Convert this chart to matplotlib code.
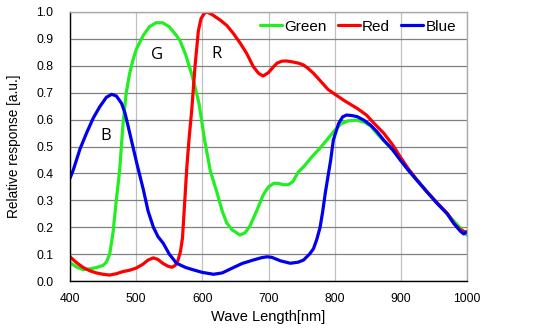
import matplotlib
matplotlib.use("Agg")
import matplotlib.pyplot as plt

plt.rcParams['font.family'] = ['Liberation Sans', 'DejaVu Sans']

green_x = [400, 410, 420, 430, 440, 450, 455, 460, 465, 470, 475, 480, 485, 490, 495, 500, 510, 520, 530, 540,
           550, 560, 566, 575, 585, 595, 603, 612, 622, 630, 637, 645, 657, 665, 672, 682, 692, 700, 708, 715,
           722, 730, 737, 745, 755, 765, 780, 790, 800, 810, 820, 833, 845, 855, 865, 875, 890, 900, 912, 925,
           940, 955, 970, 985, 1000]
green_y = [0.068, 0.052, 0.042, 0.045, 0.05, 0.058, 0.07, 0.1, 0.18, 0.3, 0.41, 0.58, 0.7, 0.77, 0.82, 0.86, 0.91,
           0.945, 0.96, 0.96, 0.945, 0.915, 0.895, 0.84, 0.76, 0.66, 0.53, 0.41, 0.33, 0.26, 0.215, 0.19, 0.171,
           0.18, 0.205, 0.26, 0.32, 0.35, 0.363, 0.363, 0.358, 0.358, 0.37, 0.405, 0.43, 0.46, 0.5, 0.53, 0.56,
           0.585, 0.595, 0.598, 0.59, 0.575, 0.545, 0.52, 0.48, 0.45, 0.41, 0.375, 0.33, 0.29, 0.25, 0.21, 0.17]

red_x = [400, 410, 420, 430, 440, 450, 460, 470, 480, 490, 500, 510, 518, 526, 533, 540, 548, 554, 559, 563,
         567, 570, 573, 576.5, 580, 584, 589, 594, 598, 603, 607, 615, 627, 637, 647, 657, 667, 677, 685, 692,
         700, 707, 713, 720, 727, 735, 745, 753, 760, 768, 778, 790, 800, 813, 825, 835, 848, 860, 874, 888,
         899, 912, 924, 940, 955, 970, 980, 990, 1000]
red_y = [0.09, 0.068, 0.05, 0.038, 0.03, 0.025, 0.022, 0.027, 0.035, 0.04, 0.048, 0.062, 0.078, 0.086, 0.08,
         0.066, 0.055, 0.051, 0.058, 0.075, 0.11, 0.16, 0.28, 0.42, 0.53, 0.636, 0.8, 0.93, 0.975, 0.995, 1.0,
         0.99, 0.97, 0.95, 0.92, 0.885, 0.846, 0.797, 0.772, 0.762, 0.775, 0.795, 0.81, 0.817, 0.818, 0.815,
         0.81, 0.803, 0.79, 0.772, 0.745, 0.712, 0.695, 0.673, 0.655, 0.64, 0.617, 0.585, 0.55, 0.505, 0.462,
         0.415, 0.377, 0.33, 0.29, 0.252, 0.215, 0.19, 0.18]

blue_x = [400, 405, 415, 425, 435, 445, 455, 463, 470, 478, 483, 488, 495, 501, 511, 518, 526, 533, 541, 550,
          561, 575, 587, 600, 617, 630, 647, 660, 677, 690, 698, 705, 718, 733, 745, 753, 762, 768, 773, 778,
          782, 786, 790, 794, 798, 806, 812, 818, 826, 834, 844, 854, 864, 874, 887, 899, 912, 924, 940, 955,
          970, 980, 990, 995, 1000]
blue_y = [0.382, 0.413, 0.49, 0.55, 0.605, 0.648, 0.683, 0.694, 0.688, 0.66, 0.625, 0.574, 0.5, 0.437, 0.338,
          0.26, 0.2, 0.165, 0.14, 0.1, 0.066, 0.05, 0.041, 0.032, 0.025, 0.03, 0.05, 0.065, 0.078, 0.087, 0.09,
          0.088, 0.075, 0.066, 0.07, 0.078, 0.1, 0.12, 0.155, 0.2, 0.26, 0.33, 0.39, 0.45, 0.524, 0.586, 0.61,
          0.617, 0.615, 0.611, 0.598, 0.58, 0.555, 0.524, 0.49, 0.45, 0.41, 0.375, 0.33, 0.288, 0.25, 0.214,
          0.185, 0.175, 0.183]

series_names = ["Green", "Red", "Blue"]
band_labels = ["B", "G", "R"]
band_pos = [(454, 0.539), (532, 0.841), (622, 0.844)]

fig = plt.figure(figsize=(5.54, 3.31), dpi=100)
ax = fig.add_axes([70/554, 1-281/331, (467-70)/554, (281-12)/331])

ax.plot(green_x, green_y, color='#22ee22', lw=2.3, label=series_names[0], solid_capstyle='round')
ax.plot(red_x, red_y, color='#ff0000', lw=2.3, label=series_names[1], solid_capstyle='round')
ax.plot(blue_x, blue_y, color='#0000ee', lw=2.3, label=series_names[2], solid_capstyle='round')

ax.set_xlim(400, 1000)
ax.set_ylim(0, 1.0)
ax.set_xticks(range(400, 1001, 100))
ax.set_yticks([i/10 for i in range(11)])
ax.set_yticklabels([f"{i/10:.1f}" for i in range(11)])
ax.tick_params(length=0, labelsize=8.7)
ax.tick_params(axis='y', pad=12)
ax.tick_params(axis='x', pad=9)
ax.grid(axis='y', color='#808080', lw=0.9)
ax.grid(axis='x', color='#c0c0c0', lw=0.9)
ax.set_axisbelow(True)
for s in ['left', 'bottom']:
    ax.spines[s].set_color('black')
    ax.spines[s].set_linewidth(1.0)
for s in ['top', 'right']:
    ax.spines[s].set_color('#aaaaaa')
    ax.spines[s].set_linewidth(1.0)

for lab, (x, y) in zip(band_labels, band_pos):
    ax.text(x, y, lab, fontsize=12, ha='center', va='center', family=['Open Sans', 'DejaVu Sans'])

ax.set_xlabel("Wave Length[nm]", fontsize=10.5, labelpad=3)
ax.set_ylabel("Relative response [a.u.]", fontsize=9.8, labelpad=11)

leg = ax.legend(loc='center right', ncol=3, frameon=False, fontsize=11, handlelength=1.45,
                handletextpad=0.15, columnspacing=0.7, borderaxespad=0, borderpad=0,
                bbox_to_anchor=((456-70)/397, 0.945))

fig.savefig("out.png", dpi=100)
